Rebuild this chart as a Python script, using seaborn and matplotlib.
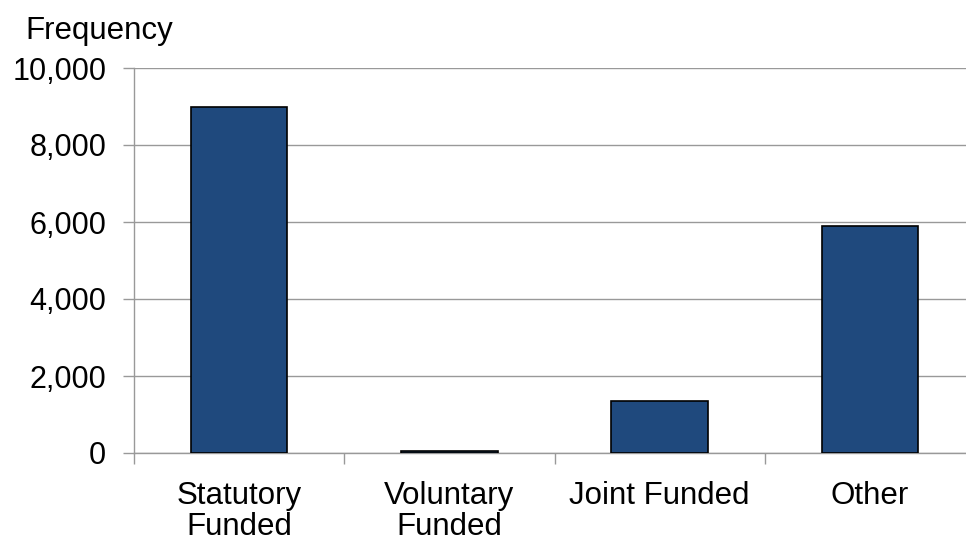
import matplotlib
matplotlib.use('Agg')
import matplotlib.pyplot as plt
import seaborn as sns
import pandas as pd

categories = ['Statutory\nFunded', 'Voluntary\nFunded', 'Joint Funded', 'Other']
frequency = [9000, 50, 1350, 5900]
yticks = [0, 2000, 4000, 6000, 8000, 10000]

df = pd.DataFrame({'cat': categories, 'freq': frequency})

sns.set_style('white')
plt.rcParams['font.family'] = ['Liberation Sans', 'DejaVu Sans']
plt.rcParams['text.color'] = 'black'
plt.rcParams['xtick.labelcolor'] = 'black'
plt.rcParams['ytick.labelcolor'] = 'black'

fig = plt.figure(figsize=(9.66, 5.38), dpi=100)
ax = fig.add_axes([134 / 966, 85 / 538, 841 / 966, 385 / 538])

sns.barplot(data=df, x='cat', y='freq', color='#1f497d', saturation=1,
            width=0.46, edgecolor='black', linewidth=1.2, ax=ax, zorder=3)

ax.set_ylim(0, 10000)
ax.set_xlim(-0.5, 3.5)
ax.set_yticks(yticks)
ax.set_yticklabels([f'{v:,}' for v in yticks])
ax.set_xticks([-0.5, 0.5, 1.5, 2.5, 3.5], minor=False)
ax.set_xticklabels([])
ax.set_xticks([0, 1, 2, 3], minor=True)
ax.set_xticklabels(categories, minor=True, linespacing=1.05)
ax.tick_params(axis='x', which='minor', length=0, pad=20, labelsize=22.5)
ax.tick_params(axis='x', which='major', length=8, width=1, color='#999999', direction='out', bottom=True)
ax.tick_params(axis='y', length=8, width=1, color='#999999', direction='out', left=True, labelsize=22, pad=12)
ax.grid(axis='y', color='#999999', linewidth=1, zorder=0)
ax.set_axisbelow(True)
for s in ['top', 'right']:
    ax.spines[s].set_visible(False)
for s in ['left', 'bottom']:
    ax.spines[s].set_color('#999999')
    ax.spines[s].set_linewidth(1)
ax.set_xlabel('')
ax.set_ylabel('')

fig.text(25 / 966, 1 - 31 / 538, 'Frequency', fontsize=22.5, va='center', ha='left')

fig.savefig('out.png', dpi=100)
